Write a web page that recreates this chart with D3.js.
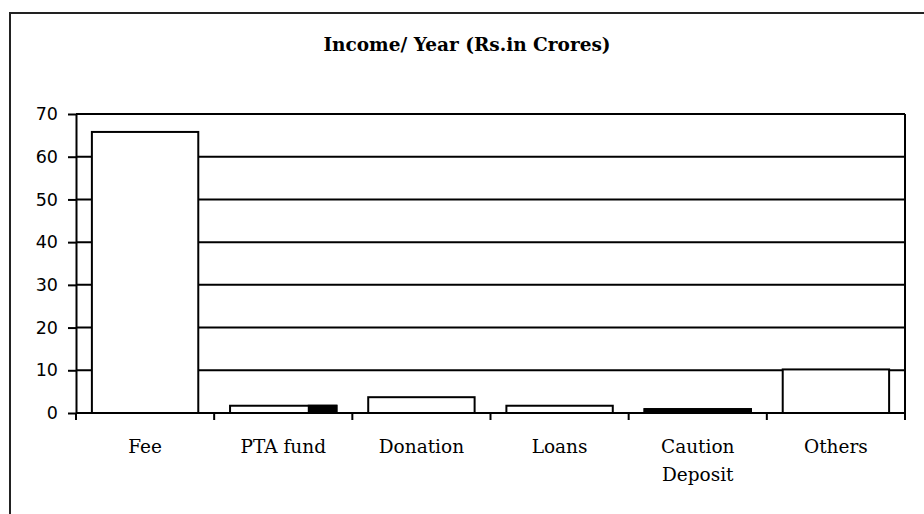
<!DOCTYPE html>
<html>
<head>
<meta charset="utf-8">
<script src="https://cdn.jsdelivr.net/npm/d3@7"></script>
<style>
  body { margin: 0; background: #fff; }
  svg { display: block; }
</style>
</head>
<body>
<div id="chart"></div>
<script>
// chart data
const categories = ["Fee", "PTA fund", "Donation", "Loans", "Caution Deposit", "Others"];
const income = [65.8, 1.7, 3.7, 1.7, 0.9, 10.2];
// share of each bar that is drawn black (right-hand part)
const darkShare = [0, 0.26, 0, 0, 1, 0];
const yTicks = [0, 10, 20, 30, 40, 50, 60, 70];
const title = "Income/ Year (Rs.in Crores)";

const W = 924, H = 514;
const margin = { top: 114, right: 19, bottom: 101, left: 76 };

const svg = d3.select("#chart").append("svg")
    .attr("width", W)
    .attr("height", H);

// outer frame, runs off the page on right and bottom
svg.append("rect")
    .attr("x", 10).attr("y", 13)
    .attr("width", 940).attr("height", 540)
    .attr("fill", "none")
    .attr("stroke", "#222")
    .attr("stroke-width", 2);

svg.append("text")
    .attr("x", 467).attr("y", 51)
    .attr("text-anchor", "middle")
    .style("font-family", "'DejaVu Serif', serif")
    .style("font-weight", "bold")
    .style("font-size", "18.5px")
    .text(title);

const x = d3.scaleBand()
    .domain(categories)
    .range([margin.left, W - margin.right]);

const y = d3.scaleLinear()
    .domain([0, 70])
    .range([H - margin.bottom, margin.top]);

// grid lines
svg.append("g")
    .selectAll("line")
    .data(yTicks)
    .enter()
    .append("line")
    .attr("x1", margin.left)
    .attr("x2", W - margin.right)
    .attr("y1", d => y(d))
    .attr("y2", d => y(d))
    .attr("stroke", "#000")
    .attr("stroke-width", 2);

// right edge of plot
svg.append("line")
    .attr("x1", W - margin.right).attr("x2", W - margin.right)
    .attr("y1", y(70)).attr("y2", y(0) + 7)
    .attr("stroke", "#000")
    .attr("stroke-width", 2);

// bars
const inset = x.bandwidth() * 0.115;
const bw = x.bandwidth() - 2 * inset;
const bars = svg.append("g");
categories.forEach((c, i) => {
    const x0 = x(c) + inset;
    bars.append("rect")
        .attr("x", x0)
        .attr("y", y(income[i]))
        .attr("width", bw)
        .attr("height", y(0) - y(income[i]))
        .attr("fill", "#fff")
        .attr("stroke", "#000")
        .attr("stroke-width", 2);
    if (darkShare[i] > 0) {
        bars.append("rect")
            .attr("x", x0 + bw * (1 - darkShare[i]))
            .attr("y", y(income[i]))
            .attr("width", bw * darkShare[i])
            .attr("height", y(0) - y(income[i]))
            .attr("fill", "#000")
            .attr("stroke", "#000")
            .attr("stroke-width", 2);
    }
});

// y axis
const yAxis = svg.append("g")
    .attr("transform", "translate(" + margin.left + ",0)")
    .call(d3.axisLeft(y).tickValues(yTicks).tickSize(8).tickPadding(10).tickSizeOuter(0));
yAxis.select(".domain").attr("stroke-width", 2);
yAxis.selectAll(".tick line").attr("stroke-width", 2);
yAxis.selectAll(".tick text")
    .style("font-family", "'DejaVu Sans', sans-serif")
    .style("font-size", "17.5px")
    .attr("fill", "#000");

// x axis: ticks at category boundaries
const xBounds = categories.map(c => x(c)).concat([W - margin.right]);
svg.append("g")
    .selectAll("line")
    .data(xBounds)
    .enter()
    .append("line")
    .attr("x1", d => d).attr("x2", d => d)
    .attr("y1", y(0)).attr("y2", y(0) + 7)
    .attr("stroke", "#000")
    .attr("stroke-width", 2);

const labels = svg.append("g")
    .selectAll("text")
    .data(categories)
    .enter()
    .append("text")
    .attr("x", d => x(d) + x.bandwidth() / 2)
    .attr("y", 453)
    .attr("text-anchor", "middle")
    .style("font-family", "'DejaVu Serif', serif")
    .style("font-size", "18.5px");

labels.each(function (d) {
    const words = d === "Caution Deposit" ? ["Caution", "Deposit"] : [d];
    const t = d3.select(this);
    words.forEach((w, k) => {
        t.append("tspan")
            .attr("x", x(d) + x.bandwidth() / 2)
            .attr("dy", k === 0 ? 0 : 28)
            .text(w);
    });
});
</script>
</body>
</html>
